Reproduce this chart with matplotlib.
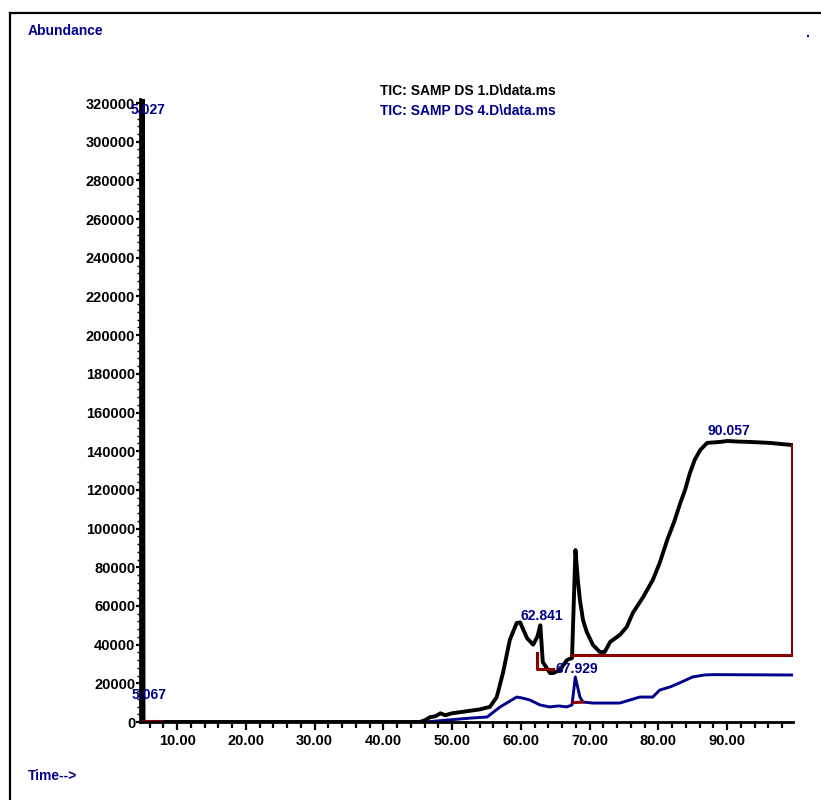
import numpy as np
import matplotlib
matplotlib.use("Agg")
import matplotlib.pyplot as plt
from matplotlib.ticker import MultipleLocator, FormatStrFormatter
from matplotlib.lines import Line2D

plt.rcParams['font.family'] = ['Liberation Sans', 'DejaVu Sans']
plt.rcParams['font.weight'] = 'bold'

NAVY = '#00008c'
DARK_RED = '#8b0000'

# --- TIC of SAMP DS 1.D (retention time in min, abundance in counts) ---
black_t = [4.6, 4.95, 5.027, 5.11, 45.3, 46.0, 46.8, 47.6, 48.3, 49.0, 50.0,
           51.0, 52.0, 53.0, 54.0, 55.5, 56.5, 57.4, 58.4, 59.4, 59.9, 60.9,
           61.8, 62.4, 62.841, 63.2, 64.25, 64.7, 65.7, 66.7, 67.45, 67.95,
           68.3, 68.6, 69.05, 69.6, 70.5, 71.5, 72.2, 73.0, 74.4, 75.4, 76.3,
           77.8, 79.2, 80.2, 81.3, 82.4, 83.2, 83.9, 84.6, 85.3, 86.1, 87.1,
           89.0, 90.057, 91.5, 93.3, 96.2, 99.45]
black_i = [0, 0, 420000, 0, 0, 800, 2500, 3000, 4500, 3500, 4500,
           5000, 5500, 6000, 6500, 7800, 12900, 25300, 42400, 51200, 51500, 43400,
           40000, 44000, 50000, 31000, 25300, 25300, 26900, 32000, 33100, 88900,
           73400, 63100, 52700, 46500, 39800, 36200, 36200, 41400, 45000, 49100, 56400,
           64600, 73400, 82200, 94100, 104400, 113200, 120000, 128700, 135500, 140600, 144300,
           144800, 145300, 145000, 144800, 144300, 143200]

# --- TIC of SAMP DS 4.D ---
blue_t = [4.6, 4.98, 5.067, 5.15, 46.0, 52.6, 55.1, 57.0, 59.4, 60.2, 61.3,
          62.8, 64.2, 65.5, 66.7, 67.45, 67.929, 68.6, 69.05, 70.5, 72.5, 74.4,
          77.3, 79.2, 80.2, 81.7, 83.1, 85.0, 86.7, 88.0, 99.45]
blue_i = [0, 0, 9500, 0, 0, 2000, 2600, 7800, 12900, 12400, 11400,
          8800, 7800, 8300, 7800, 8800, 23300, 12900, 10300, 9800, 9800, 9800,
          12900, 12900, 16500, 18100, 20200, 23300, 24300, 24500, 24300]

# --- integration baselines ---
base_solvent_t = [4.9, 7.65]
base_solvent_i = [500, 500]
base_a_t = [62.3, 62.3, 64.7]
base_a_i = [35700, 27400, 27400]
base_b_t = [67.45, 99.45, 99.45]
base_b_i = [34600, 34600, 143200]
base_c_t = [67.6, 69.0]
base_c_i = [10000, 10300]

# --- labelled peaks (retention time, trace) ---
black_peaks = [62.841, 90.057]
blue_peaks = [67.929]

x_ticks = [10, 20, 30, 40, 50, 60, 70, 80, 90]
y_ticks = list(range(0, 320001, 20000))

fig = plt.figure(figsize=(8.21, 8.00), dpi=100)
ax = fig.add_axes([140 / 821, 78 / 800, 653 / 821, 622.8 / 800])

ax.plot(blue_t, blue_i, color=NAVY, lw=2.1, solid_joinstyle='round', zorder=3)
ax.plot(black_t, black_i, color='black', lw=2.8, solid_joinstyle='round', zorder=4)
for bt, bi in [(base_solvent_t, base_solvent_i), (base_a_t, base_a_i),
               (base_b_t, base_b_i), (base_c_t, base_c_i)]:
    ax.plot(bt, bi, color=DARK_RED, lw=2.2, zorder=5)

ax.set_xlim(4.6, 99.6)
ax.set_ylim(0, 322000)

for s in ('top', 'right'):
    ax.spines[s].set_visible(False)
for s in ('left', 'bottom'):
    ax.spines[s].set_linewidth(2.0)
    ax.spines[s].set_zorder(6)

ax.xaxis.set_major_locator(plt.FixedLocator(x_ticks))
ax.xaxis.set_minor_locator(MultipleLocator(2))
ax.xaxis.set_major_formatter(FormatStrFormatter('%.2f'))
ax.yaxis.set_major_locator(plt.FixedLocator(y_ticks))
ax.yaxis.set_minor_locator(MultipleLocator(4000))
ax.yaxis.set_major_formatter(FormatStrFormatter('%d'))

ax.tick_params(axis='x', which='major', length=6, width=1.6, pad=2.5,
               labelsize=10.5, direction='out')
ax.tick_params(axis='x', which='minor', length=4, width=1.6, direction='out')
ax.tick_params(axis='y', which='major', length=3, width=1.6, pad=0.5,
               labelsize=10.5, direction='out')
ax.tick_params(axis='y', which='minor', length=2, width=1.0, direction='out')
for lab in ax.get_xticklabels() + ax.get_yticklabels():
    lab.set_fontweight('bold')

label_kw = dict(color=NAVY, fontsize=10, fontweight='bold', ha='center',
                textcoords='offset points', annotation_clip=False, zorder=7)
for rt in black_peaks:
    ax.annotate(f'{rt:.3f}', xy=(rt, np.interp(rt, black_t, black_i)),
                xytext=(1, 2), va='bottom', **label_kw)
for rt in blue_peaks:
    ax.annotate(f'{rt:.3f}', xy=(rt, np.interp(rt, blue_t, blue_i)),
                xytext=(1, 1), va='bottom', **label_kw)
# solvent peaks at the start of the run
ax.annotate('5.027', xy=(5.027, 322000), xytext=(4, -3), va='top', **label_kw)
ax.annotate('5.067', xy=(5.067, 9500), xytext=(4, 1), va='bottom', **label_kw)

fig.text(468 / 821, 1 - 91 / 800, 'TIC: SAMP DS 1.D\\data.ms', color='black',
         fontsize=10, fontweight='bold', ha='center', va='center')
fig.text(468 / 821, 1 - 111 / 800, 'TIC: SAMP DS 4.D\\data.ms', color=NAVY,
         fontsize=10, fontweight='bold', ha='center', va='center')
fig.text(28 / 821, 1 - 31 / 800, 'Abundance', color=NAVY, fontsize=10,
         fontweight='bold', ha='left', va='center')
fig.text(28 / 821, 1 - 776 / 800, 'Time-->', color=NAVY, fontsize=10,
         fontweight='bold', ha='left', va='center')
fig.text(808 / 821, 1 - 33 / 800, '.', color=NAVY, fontsize=10,
         fontweight='bold', ha='center', va='center')

# page frame
fig.add_artist(Line2D([10 / 821, 10 / 821], [0, 1 - 13 / 800], color='black',
                      lw=1.6, transform=fig.transFigure))
fig.add_artist(Line2D([10 / 821, 1], [1 - 13 / 800, 1 - 13 / 800], color='black',
                      lw=1.6, transform=fig.transFigure))

fig.savefig('out.png', dpi=100)
